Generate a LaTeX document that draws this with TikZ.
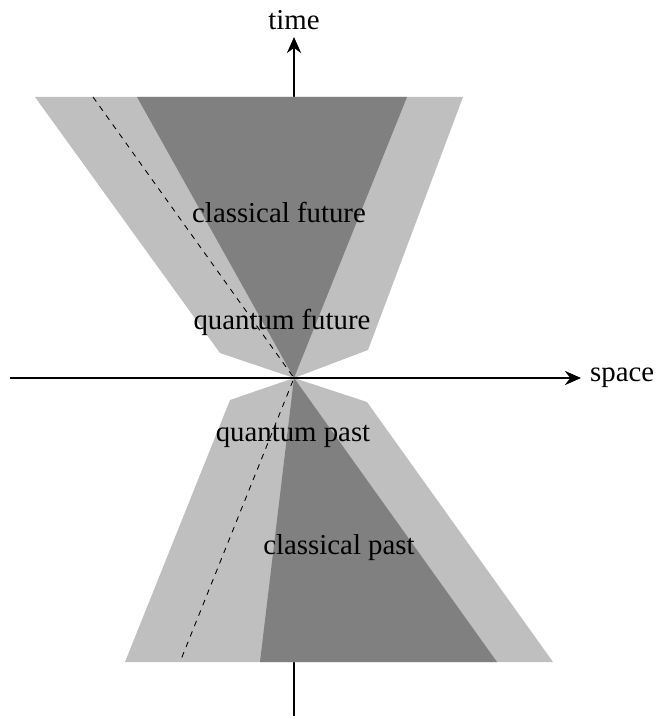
\documentclass[tikz,border=0pt]{standalone}
\usepackage{fontspec}
\setmainfont{Liberation Serif}
\usetikzlibrary{arrows.meta}
\tikzset{
  quantum/.style={fill=black!25,draw=none},
  classical/.style={fill=black!50,draw=none},
  lbl/.style={font=\fontsize{16.4}{19}\selectfont,inner sep=1pt},
  axis/.style={-{Stealth[length=3.2mm,width=2.8mm]},line width=1.7pt},
  geo/.style={dash pattern=on 3.2pt off 3.2pt,line width=0.5pt},
}

\begin{document}
\begin{tikzpicture}[x=0.02cm,y=-0.02cm]
\useasboundingbox (0,0) rectangle (655,719);
\coordinate (O) at (294,378);
% time axis goes under the cones
\coordinate (tbot) at (294,716);
\coordinate (ttop) at (294,37);
\draw[axis] (tbot) -- (ttop);
% light cones
\fill[quantum] (35,97) -- (463,97) -- (368,350) -- (O) -- (220,353) -- cycle;
\fill[quantum] (125,662) -- (553,662) -- (367,402) -- (O) -- (230,400) -- cycle;
\fill[classical] (137,97) -- (407,97) -- (O) -- cycle;
\fill[classical] (260,662) -- (497,662) -- (O) -- cycle;
% dashed world line
\coordinate (wtop) at (93,97);
\coordinate (wbot) at (180,662);
\draw[geo] (wtop) -- (O) -- (wbot);
% space axis
\coordinate (sleft) at (10,378);
\coordinate (sright) at (581,378);
\draw[axis] (sleft) -- (sright);
\node[lbl,anchor=south] (time) at ([yshift=3]ttop) {time};
\node[lbl,anchor=west] (space) at ([xshift=4]sright) {space};
\node[lbl] (cf) at (279,212) {classical future};
\node[lbl] (qf) at (282,322) {quantum future};
\node[lbl] (qp) at (293,436) {quantum past};
\node[lbl] (cp) at (339,548) {classical past};
\end{tikzpicture}
\end{document}
